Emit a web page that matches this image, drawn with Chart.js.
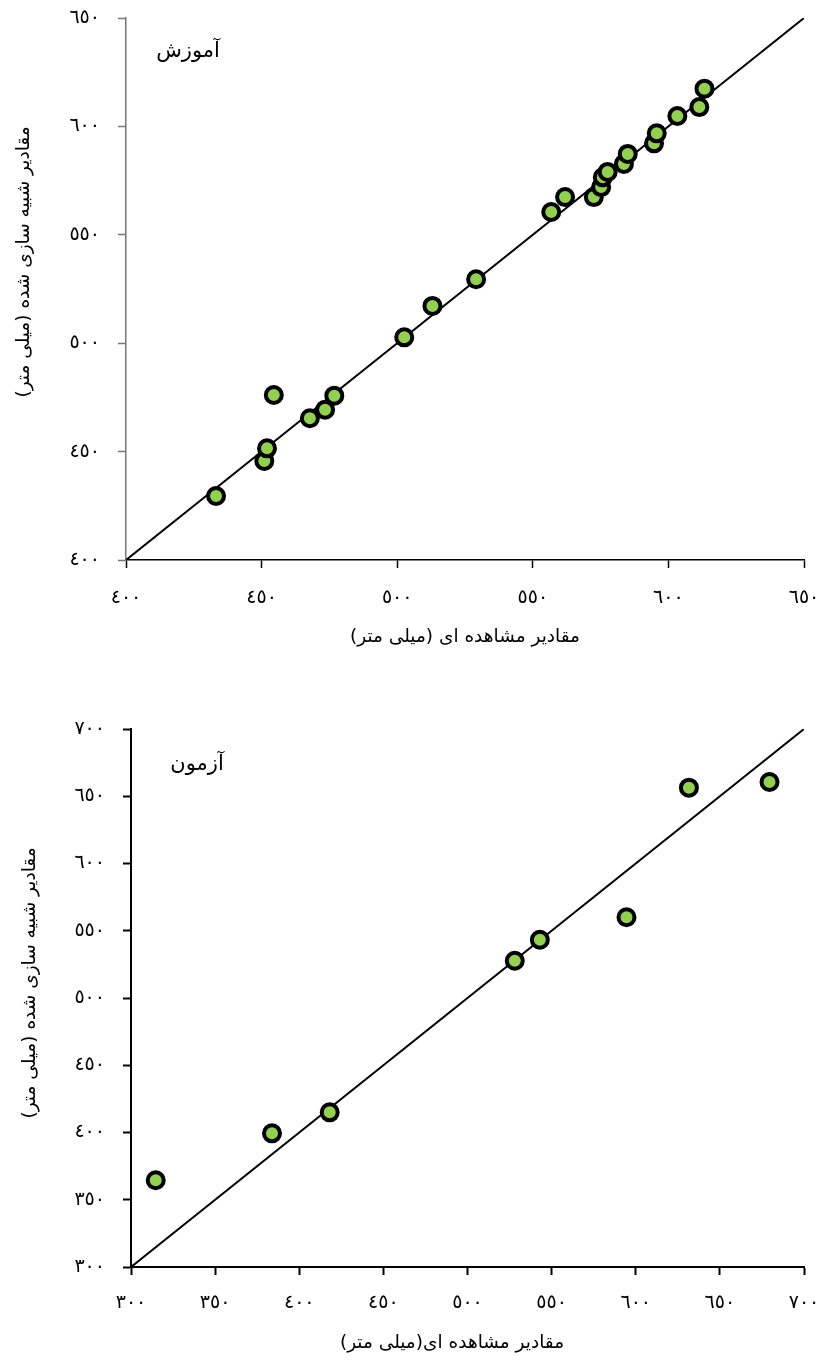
<!DOCTYPE html>
<html><head><meta charset="utf-8">
<script src="https://cdn.jsdelivr.net/npm/chart.js@4.4.1/dist/chart.umd.min.js"></script>
<style>
html,body{margin:0;padding:0;background:#fff;}
#wrap{position:relative;width:820px;height:1360px;overflow:hidden;}
canvas{position:absolute;left:0;direction:rtl;}
</style></head><body>
<div id="wrap">
<canvas id="c1" width="820" height="670" style="top:0px"></canvas>
<canvas id="c2" width="820" height="690" style="top:670px"></canvas>
</div>
<script>
// ---- Data ----
const trainObserved  = [433.2, 451.0, 452.0, 454.5, 467.8, 473.4, 476.8, 502.6, 513.0, 529.1, 556.8, 561.9, 572.5, 575.2, 575.8, 577.6, 583.6, 585.0, 594.7, 595.7, 603.3, 611.4, 613.3];
const trainSimulated = [429.5, 445.7, 451.5, 476.1, 465.4, 469.3, 475.8, 502.7, 517.2, 529.5, 560.5, 567.4, 567.4, 572.0, 576.5, 579.0, 582.7, 587.3, 592.2, 596.8, 604.8, 608.9, 617.4];
const testObserved   = [314.7, 383.8, 418.1, 528.1, 543.0, 594.5, 631.6, 679.5];
const testSimulated  = [364.5, 399.4, 415.0, 527.7, 543.3, 560.0, 656.4, 660.6];

const trainTicks      = [400, 450, 500, 550, 600, 650];
const trainTickLabels = ['٤٠٠', '٤٥٠', '٥٠٠', '٥٥٠', '٦٠٠', '٦٥٠'];
const testTicks       = [300, 350, 400, 450, 500, 550, 600, 650, 700];
const testTickLabels  = ['٣٠٠', '٣٥٠', '٤٠٠', '٤٥٠', '٥٠٠', '٥٥٠', '٦٠٠', '٦٥٠', '٧٠٠'];

const trainLabel = 'آموزش';
const testLabel  = 'آزمون';
const trainXTitle = 'مقادیر مشاهده ای (میلی متر)';
const testXTitle  = 'مقادیر مشاهده ای(میلی متر)';
const yTitle = 'مقادیر شبیه سازی شده (میلی متر)';

// ---- Styling ----
const FONT_FAMILY = "'DejaVu Sans', sans-serif";
const GREEN = '#92D050';

const textPlugin = {
  id: 'panelText',
  afterDraw(chart, args, o) {
    const ctx = chart.ctx;
    ctx.save();
    ctx.direction = 'rtl';
    ctx.fillStyle = '#000';
    ctx.textAlign = 'center';
    ctx.textBaseline = 'middle';
    ctx.font = o.labelFont;
    ctx.fillText(o.label, o.labelPos[0], o.labelPos[1]);
    ctx.font = o.titleFont;
    ctx.fillText(o.xTitle, o.xTitlePos[0], o.xTitlePos[1]);
    ctx.translate(o.yTitlePos[0], o.yTitlePos[1]);
    ctx.rotate(-Math.PI / 2);
    ctx.fillText(o.yTitle, 0, 0);
    ctx.restore();
  }
};

function makeChart(canvasId, obs, sim, ticks, tickLabels, cfg) {
  const pts = obs.map((x, i) => ({x: x, y: sim[i]}));
  const lo = ticks[0], hi = ticks[ticks.length - 1];
  const axis = (isX) => ({
    type: 'linear',
    min: lo, max: hi,
    afterBuildTicks: (s) => { s.ticks = ticks.map(v => ({value: v})); },
    afterFit: (s) => {
      if (isX) s.height = cfg.xHeight; else s.width = cfg.yWidth;
      s.paddingTop = 0; s.paddingBottom = 0; s.paddingLeft = 0; s.paddingRight = 0;
    },
    ticks: {
      font: {family: FONT_FAMILY, size: 19},
      color: '#000',
      padding: isX ? cfg.xPad : cfg.yPad,
      maxRotation: 0,
      autoSkip: false,
      callback: (v) => tickLabels[ticks.indexOf(v)]
    },
    grid: {
      display: true, drawOnChartArea: false, drawTicks: true,
      tickLength: 8,
      tickColor: isX ? cfg.xColor : cfg.yColor,
      tickWidth: cfg.axisWidth
    },
    border: {display: true, color: isX ? cfg.xColor : cfg.yColor, width: cfg.axisWidth}
  });
  return new Chart(document.getElementById(canvasId), {
    type: 'scatter',
    data: {
      datasets: [
        {
          data: pts,
          backgroundColor: GREEN,
          borderColor: '#000',
          borderWidth: 4,
          pointRadius: 8,
          pointHoverRadius: 8
        },
        {
          type: 'line',
          data: [{x: lo, y: lo}, {x: hi, y: hi}],
          borderColor: '#000',
          borderWidth: 2,
          pointRadius: 0,
          fill: false
        }
      ]
    },
    options: {
      responsive: false,
      animation: false,
      events: [],
      layout: {padding: cfg.padding, autoPadding: false},
      plugins: {
        legend: {display: false},
        tooltip: {enabled: false},
        panelText: {
          label: cfg.label, labelPos: cfg.labelPos,
          xTitle: cfg.xTitle, xTitlePos: cfg.xTitlePos,
          yTitle: yTitle, yTitlePos: cfg.yTitlePos,
          labelFont: '21px ' + FONT_FAMILY,
          titleFont: '18.5px ' + FONT_FAMILY
        }
      },
      scales: {x: axis(true), y: axis(false)}
    },
    plugins: [textPlugin]
  });
}

makeChart('c1', trainObserved, trainSimulated, trainTicks, trainTickLabels, {
  padding: {top: 18, right: 16, left: 0, bottom: 0},
  yWidth: 126, xHeight: 110, xPad: 19, yPad: 18,
  xColor: '#000', yColor: '#777', axisWidth: 1.5,
  label: trainLabel, labelPos: [188, 52],
  xTitle: trainXTitle, xTitlePos: [465, 637],
  yTitlePos: [24, 262]
});

makeChart('c2', testObserved, testSimulated, testTicks, testTickLabels, {
  padding: {top: 59, right: 16, left: 0, bottom: 0},
  yWidth: 131, xHeight: 93, xPad: 17, yPad: 18,
  xColor: '#000', yColor: '#000', axisWidth: 2,
  label: testLabel, labelPos: [197, 95],
  xTitle: testXTitle, xTitlePos: [452, 673],
  yTitlePos: [30, 313]
});
</script>
</body></html>
